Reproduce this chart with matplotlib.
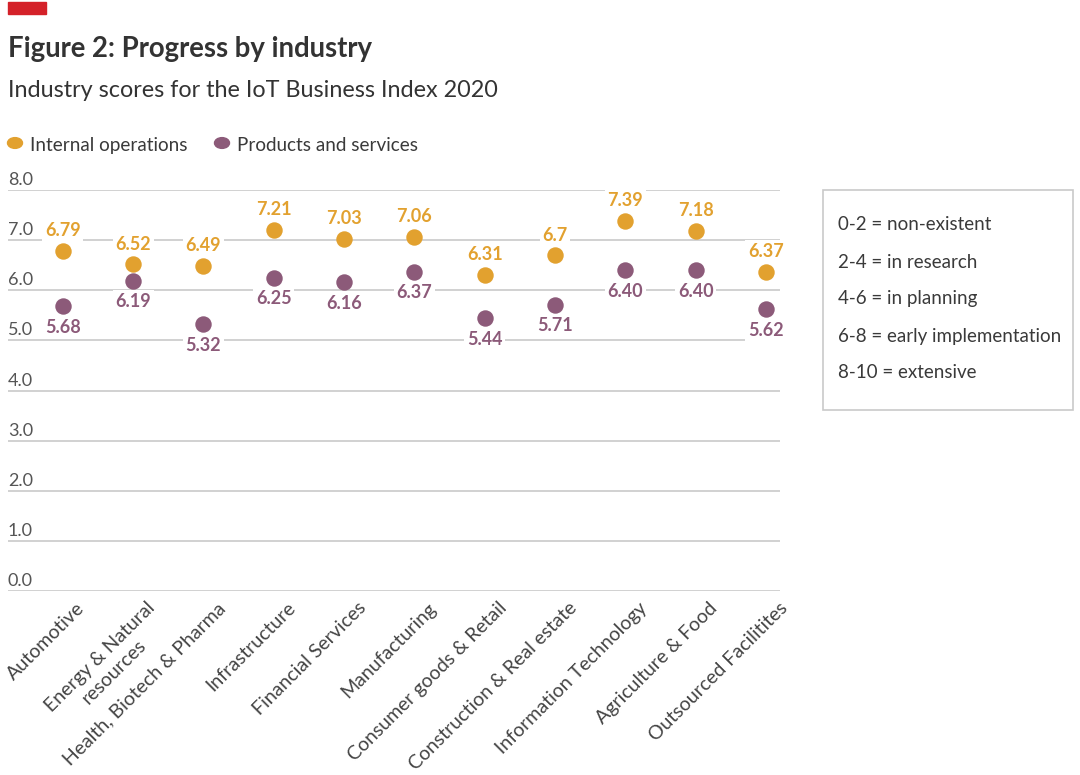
import matplotlib.pyplot as plt
from matplotlib.patches import Rectangle
from matplotlib.transforms import ScaledTranslation, blended_transform_factory

plt.rcParams['font.family'] = ['Lato', 'DejaVu Sans']

# Data
industries = ['Automotive', 'Energy & Natural\nresources', 'Health, Biotech & Pharma',
              'Infrastructure', 'Financial Services', 'Manufacturing',
              'Consumer goods & Retail', 'Construction & Real estate',
              'Information Technology', 'Agriculture & Food', 'Outsourced Facilitites']
internal_ops = [6.79, 6.52, 6.49, 7.21, 7.03, 7.06, 6.31, 6.70, 7.39, 7.18, 6.37]
internal_labels = ['6.79', '6.52', '6.49', '7.21', '7.03', '7.06', '6.31', '6.7', '7.39', '7.18', '6.37']
products = [5.68, 6.19, 5.32, 6.25, 6.16, 6.37, 5.44, 5.71, 6.40, 6.40, 5.62]
y_ticks = [0, 1, 2, 3, 4, 5, 6, 7, 8]
scale_notes = ['0-2 = non-existent', '2-4 = in research', '4-6 = in planning',
               '6-8 = early implementation', '8-10 = extensive']

ORANGE = '#E2A12F'
PURPLE = '#8C5A79'
GRID = '#c9c9c9'
TEXT = '#3a3a3a'

W, H = 1080, 775
fig = plt.figure(figsize=(W / 100, H / 100), dpi=100)

def fx(px):
    return px / W

def fy(py):
    return 1 - py / H

ax = fig.add_axes([fx(8), fy(591), fx(780 - 8), (591 - 190) / H])
ax.set_xlim(-0.78, 10.2)
ax.set_ylim(0, 8)
for s in ax.spines.values():
    s.set_visible(False)
ax.set_yticks([])

for v in y_ticks:
    ax.axhline(v, color=GRID, lw=1.2, zorder=1)

# y tick labels sit above the gridlines
trans = blended_transform_factory(ax.transAxes, ax.transData)
up = ScaledTranslation(0, 2 / 100, fig.dpi_scale_trans)
for v in y_ticks:
    ax.text(0, v, f'{v:.1f}', transform=trans + up, ha='left', va='bottom',
            fontsize=13, color='#555555')

x = list(range(len(industries)))
ax.scatter(x, internal_ops, s=140, color=ORANGE, zorder=4, linewidths=0)
ax.scatter(x, products, s=140, color=PURPLE, zorder=4, linewidths=0)

box = dict(boxstyle='square,pad=0.15', fc='white', ec='none')
for i in x:
    ax.annotate(internal_labels[i], (i, internal_ops[i]), xytext=(0, 14.5), textcoords='offset points',
                ha='center', va='center', fontsize=13, fontweight='bold', color=ORANGE,
                bbox=box, zorder=3)
    ax.annotate(f'{products[i]:.2f}', (i, products[i]), xytext=(0, -15), textcoords='offset points',
                ha='center', va='center', fontsize=13, fontweight='bold', color=PURPLE,
                bbox=box, zorder=3)

ax.set_xticks(x)
ax.set_xticklabels(industries, rotation=45, ha='right', va='top', rotation_mode='anchor',
                   multialignment='center', fontsize=14, color='#444444')
ax.tick_params(axis='x', length=0, pad=6)
shift = ScaledTranslation(13 / 100, 0, fig.dpi_scale_trans)
for lab in ax.get_xticklabels():
    lab.set_transform(lab.get_transform() + shift)

# header
fig.patches.append(Rectangle((fx(8), fy(14)), fx(38), 12 / H, transform=fig.transFigure,
                             color='#D42129', zorder=5))
fig.text(fx(8), fy(57), 'Figure 2: Progress by industry', fontsize=19.8, fontweight='bold',
         color='#333333', ha='left', va='baseline')
fig.text(fx(8), fy(97), 'Industry scores for the IoT Business Index 2020', fontsize=16.8,
         color='#333333', ha='left', va='baseline')

# legend
fig.patches.append(plt.Circle((fx(15), fy(143)), 7.5 / W, transform=fig.transFigure, color=ORANGE))
fig.text(fx(30), fy(151), 'Internal operations', fontsize=13.6, color=TEXT, ha='left', va='baseline')
fig.patches.append(plt.Circle((fx(222), fy(143)), 7.5 / W, transform=fig.transFigure, color=PURPLE))
fig.text(fx(237), fy(151), 'Products and services', fontsize=13.6, color=TEXT, ha='left', va='baseline')

# scale box
fig.patches.append(Rectangle((fx(823), fy(410)), fx(1073 - 823), (410 - 190) / H,
                             transform=fig.transFigure, fc='none', ec=GRID, lw=1.2))
for j, note in enumerate(scale_notes):
    fig.text(fx(838), fy(225 + j * 37), note, fontsize=13.5, color=TEXT, ha='left', va='center')

fig.savefig('out.png', dpi=100, facecolor='white')
